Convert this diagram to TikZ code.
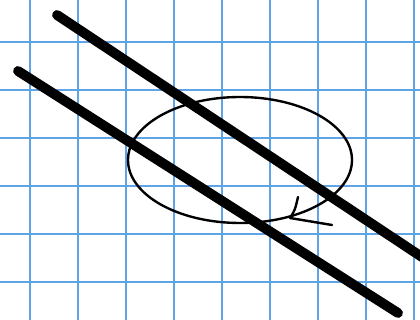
\documentclass[tikz,border=0pt]{standalone}
\usepackage{tikz}

\definecolor{gridblue}{RGB}{95,165,230}

\tikzset{
  gridline/.style={draw=gridblue,line width=1.1pt},
  wire/.style={draw=black,line width=7pt,line cap=round},
  loopline/.style={draw=black,line width=1.7pt,line cap=round}
}

\begin{document}
\begin{tikzpicture}[x=0.025cm,y=-0.025cm]
  \useasboundingbox (0,0) rectangle (420,320);
  \fill[white] (0,0) rectangle (420,320);
  % squared paper
  \foreach \gx in {30,78,...,414}
    \draw[gridline] (\gx,0) -- (\gx,320);
  \foreach \gy in {42,90,...,282}
    \draw[gridline] (0,\gy) -- (420,\gy);
  % current loop
  \draw[loopline] (240,160) ellipse (112 and 63);
  \coordinate (tip) at (290,218);
  \draw[loopline] (tip) .. controls (295,210) .. (298,197);
  \draw[loopline] (tip) -- (332,225);
  % two wires
  \begin{scope}
    \clip (0,0) rectangle (420,320);
    \draw[wire] (57,15) -- (440,269);
    \draw[wire] (18,71) -- (398,313);
  \end{scope}
\end{tikzpicture}
\end{document}
